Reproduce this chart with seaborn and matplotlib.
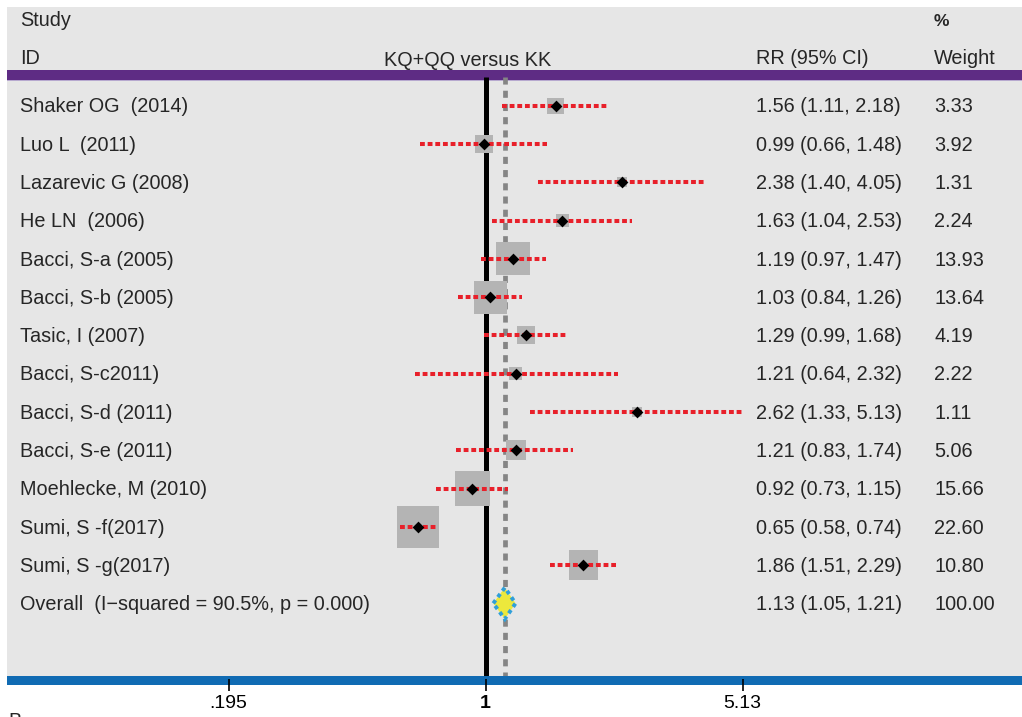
import numpy as np
import pandas as pd
import matplotlib
matplotlib.use("Agg")
import matplotlib.pyplot as plt
import matplotlib.transforms as mtransforms
import seaborn as sns

# ---------------- data ----------------
studies = ["Shaker OG  (2014)", "Luo L  (2011)", "Lazarevic G (2008)", "He LN  (2006)",
           "Bacci, S-a (2005)", "Bacci, S-b (2005)", "Tasic, I (2007)", "Bacci, S-c2011)",
           "Bacci, S-d (2011)", "Bacci, S-e (2011)", "Moehlecke, M (2010)", "Sumi, S -f(2017)",
           "Sumi, S -g(2017)"]
rr = [1.56, 0.99, 2.38, 1.63, 1.19, 1.03, 1.29, 1.21, 2.62, 1.21, 0.92, 0.65, 1.86]
ci_low = [1.11, 0.66, 1.40, 1.04, 0.97, 0.84, 0.99, 0.64, 1.33, 0.83, 0.73, 0.58, 1.51]
ci_high = [2.18, 1.48, 4.05, 2.53, 1.47, 1.26, 1.68, 2.32, 5.13, 1.74, 1.15, 0.74, 2.29]
weights = [3.33, 3.92, 1.31, 2.24, 13.93, 13.64, 4.19, 2.22, 1.11, 5.06, 15.66, 22.60, 10.80]

overall_label = "Overall  (I\u2212squared = 90.5%, p = 0.000)"
overall_rr, overall_low, overall_high, overall_weight = 1.13, 1.05, 1.21, 100.00

tick_values = [0.195, 1, 5.13]
tick_labels = [".195", "1", "5.13"]

title_mid = "KQ+QQ versus KK"
hdr_study, hdr_id, hdr_rr, hdr_pct, hdr_weight = "Study", "ID", "RR (95% CI)", "%", "Weight"

# ---------------- style ----------------
sns.set_theme(style="white")
plt.rcParams["font.family"] = ["Liberation Sans", "DejaVu Sans"]

W, H = 1022, 717
fig = plt.figure(figsize=(W / 100, H / 100), dpi=100)
fig.patch.set_facecolor("white")

ax_l, ax_r, ax_t, ax_b = 7, 1022, 7, 685
ax = fig.add_axes([ax_l / W, 1 - ax_b / H, (ax_r - ax_l) / W, (ax_b - ax_t) / H])
ax.set_facecolor("#e6e6e6")
ax.set_xscale("log")

# pixel <-> data helpers (layout only)
x1_px, px_per_ln = 485.6, 157.2
row0_px, row_px = 105.7, 38.28


def row(py):
    return (py - row0_px) / row_px


n = len(studies)
df = pd.DataFrame({"study": studies, "rr": rr, "lo": ci_low, "hi": ci_high,
                   "weight": weights, "row": np.arange(n)})

RED = "#e8202a"
# reference lines
ax.vlines(1, row(77), row(676), color="black", lw=3.6, zorder=2)
ax.vlines(overall_rr, row(77), row(676), color="#858585", lw=3.4,
          linestyles=[(0, (1.5, 1.3))], zorder=2)

# header / footer bands
ax.axhspan(row(70), row(79.5), color="#5e2c84", zorder=1.5, lw=0)
ax.axhspan(row(79.5), row(80.5), color="#b7a9cf", zorder=1.5, lw=0)
ax.axhspan(row(676), row(685), color="#106bb3", zorder=2.2, lw=0)

# weight boxes
box_k = (8.9 * 0.72) ** 2
wmin, wmax = min(weights), max(weights)
sns.scatterplot(data=df, x="rr", y="row", size="weight",
                sizes=(box_k * wmin, box_k * wmax), size_norm=(wmin, wmax),
                marker="s", color="#b4b4b4", linewidth=0, legend=False,
                ax=ax, zorder=3)

# confidence intervals
ax.hlines(df["row"], df["lo"], df["hi"], colors=RED, lw=2.9,
          linestyles=[(0, (1.2, 0.7))], zorder=4)

# point estimates
sns.scatterplot(data=df, x="rr", y="row", marker="D", s=36, color="black",
                linewidth=0, legend=False, ax=ax, zorder=5)

# overall diamond
h = 0.41
ax.fill([overall_low, overall_rr, overall_high, overall_rr],
        [n, n - h, n, n + h], facecolor="#ece83c", edgecolor="#2f9fd9",
        lw=2.8, linestyle=(0, (1.0, 1.0)), zorder=5)

ax.set_xlim(np.exp((ax_l - x1_px) / px_per_ln), np.exp((ax_r - x1_px) / px_per_ln))
ax.set_ylim(row(ax_b), row(ax_t))

ax.set_xticks(tick_values)
ax.set_xticklabels(tick_labels)
ax.xaxis.set_minor_locator(matplotlib.ticker.NullLocator())
ax.set_yticks([])
ax.set_xlabel("")
ax.set_ylabel("")
ax.tick_params(axis="x", direction="inout", length=8.4, width=1.2, pad=3,
               labelsize=14, colors="black", bottom=True)
for lab in ax.get_xticklabels():
    if lab.get_text() == "1":
        lab.set_fontweight("bold")
ax.set_axisbelow(False)
for s in ax.spines.values():
    s.set_visible(False)

# ---------------- texts ----------------
FS = 14.3
trans = mtransforms.blended_transform_factory(fig.transFigure, ax.transData)
base_off = 6.8 / row_px
x_study, x_rr, x_w = 20 / W, 755.5 / W, 934 / W

for i, s in enumerate(studies):
    ax.text(x_study, i + base_off, s, transform=trans, fontsize=FS, va="baseline", ha="left")
    ax.text(x_rr, i + base_off, f"{rr[i]:.2f} ({ci_low[i]:.2f}, {ci_high[i]:.2f})",
            transform=trans, fontsize=FS, va="baseline", ha="left")
    ax.text(x_w, i + base_off, f"{weights[i]:.2f}", transform=trans, fontsize=FS,
            va="baseline", ha="left")

ax.text(x_study, n + base_off, overall_label, transform=trans, fontsize=FS, va="baseline")
ax.text(x_rr, n + base_off, f"{overall_rr:.2f} ({overall_low:.2f}, {overall_high:.2f})",
        transform=trans, fontsize=FS, va="baseline")
ax.text(x_w, n + base_off, f"{overall_weight:.2f}", transform=trans, fontsize=FS,
        va="baseline")


def ftext(px, py, s, **kw):
    fig.text(px / W, 1 - py / H, s, va="baseline", **kw)


ftext(20, 25.5, hdr_study, fontsize=FS)
ftext(934, 26.5, hdr_pct, fontsize=12.5, fontweight="bold")
ftext(20, 64, hdr_id, fontsize=FS)
ftext(467.5, 66.5, title_mid, fontsize=FS, ha="center")
ftext(755.5, 64, hdr_rr, fontsize=FS)
ftext(934, 64, hdr_weight, fontsize=FS)
fig.text(8 / W, 1 - 712 / H, "B", va="top", ha="left", fontsize=FS)

fig.savefig("out.png", dpi=100, facecolor="white")
